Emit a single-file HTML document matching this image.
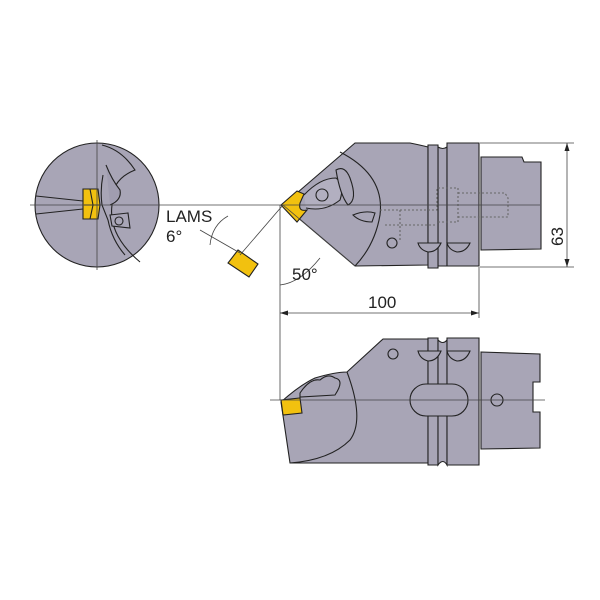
<!DOCTYPE html>
<html><head><style>body{margin:0;background:#fff}svg{display:block}</style></head><body>
<svg width="600" height="600" viewBox="0 0 600 600" xmlns="http://www.w3.org/2000/svg" font-family="Liberation Sans, sans-serif">
<g stroke="#222" stroke-width="1.1" fill="#a8a5b6">
<!-- front circle -->
<circle cx="97" cy="205" r="62"/>
<path d="M102 145 Q122 150 135 170 Q110 180 112 205 Q108 235 140 262" fill="none"/>
<path d="M103 175 Q100 190 102 205 L108 220 Q112 240 125 255" fill="none"/>
<path d="M106 165 Q112 180 120 190 Q122 200 110 205" fill="#a09db0"/>
<path d="M110 215 L128 213 L130 228 L112 226 Z"/>
<circle cx="119" cy="221" r="4"/>
<path d="M36 196 L83 201 M36 214 L83 209" fill="none"/>
<path d="M83 189 L98 189 L100 205 L98 219 L83 219 Z" fill="#f2c10f"/>
<path d="M90 189 L93 205 L90 219 M84 205 L100 205" fill="none"/>
<!-- side insert -->
<path d="M238 250 L258 264 L249 277 L228 263 Z" fill="#f2c10f"/>
<!-- top body -->
<path d="M283 205 L355 143 L410 143 Q420 145 428 147 L428 265 L355 266 Z"/>
<path d="M438 147 Q443 150 447 147 L447 266 L438 266 Z"/>
<path d="M428 145 L438 145 L438 268 L428 268 Z"/>
<path d="M447 143 L479 143 L479 266 L447 266 Z"/>
<path d="M481 157 L522 157 L524 162 L541 162 L541 249 L481 250 Z"/>
<path d="M340 152 Q385 175 380 215 Q375 245 355 266" fill="none"/>
<path d="M304 195 Q320 178 336 178 Q345 185 340 200 Q325 212 306 208" fill="#b2afc0"/>
<circle cx="322" cy="195" r="6" fill="none"/>
<path d="M336 170 Q345 165 350 178 Q358 200 348 205 Q340 195 336 170Z"/>
<path d="M353 215 Q365 210 375 213 L372 222 Q360 222 353 215Z"/>
<circle cx="392" cy="243" r="5"/>
<path d="M418 243 L441 243 Q437 252 428 252 Q420 250 418 243Z M447 243 L470 243 Q466 252 457 252 Q449 250 447 243Z"/>
<path d="M281 205 L297 191 L304 194 L300 203 Q298 212 307 210 L297 222 Z" fill="#f2c10f"/>
<g fill="none" stroke-dasharray="2,2" stroke="#666">
<path d="M380 210 L437 210 L437 188 L458 188 L458 222 L437 222 M458 193 L505 193 L508 198 L508 217 L458 217 M400 210 L400 240 M385 225 L437 225"/>
</g>
<!-- bottom body -->
<path d="M383 339 L428 339 L428 463 L290 463 L281 402 Q300 385 315 378 Q335 372 347 372 Z"/>
<path d="M428 338 L438 338 L438 465 L428 465 Z"/>
<path d="M438 340 Q443 345 447 340 L447 465 Q443 458 438 465 Z"/>
<path d="M447 338 L479 338 L479 465 L447 465 Z"/>
<path d="M481 352 L540 354 L540 382 L533 382 L533 412 L540 412 L540 448 L481 449 Z"/>
<rect x="410" y="384" width="58" height="32" rx="16"/>
<circle cx="497" cy="400" r="6"/>
<path d="M347 372 Q365 420 350 440 Q330 460 290 463" fill="none"/>
<path d="M300 393 Q310 378 320 380 Q328 373 335 378 Q345 380 335 395 L300 397Z"/>
<circle cx="393" cy="354" r="5"/>
<path d="M418 351 L441 351 Q437 361 428 361 Q420 359 418 351Z M447 351 L470 351 Q466 361 457 361 Q449 359 447 351Z"/>
<path d="M281 400 L300 398 L302 413 L283 415 Z" fill="#f2c10f"/>
</g>
<g stroke="#444" stroke-width="0.8" fill="none">
<line x1="30" y1="205" x2="540" y2="205"/>
<line x1="97" y1="140" x2="97" y2="270"/>
<line x1="270" y1="400" x2="545" y2="400"/>
<line x1="280" y1="205" x2="280" y2="400"/>
<line x1="479" y1="267" x2="479" y2="318"/>
<line x1="280" y1="313" x2="479" y2="313"/>
<line x1="480" y1="143" x2="574" y2="143"/>
<line x1="480" y1="267" x2="574" y2="267"/>
<line x1="567" y1="143" x2="567" y2="267"/>
<line x1="283" y1="205" x2="355" y2="266"/>
<line x1="283" y1="205" x2="240" y2="255"/>
<path d="M280 285 Q300 283 320 258"/>
<path d="M228 216 Q212 225 210 245"/>
<line x1="200" y1="230" x2="240" y2="253"/>
</g>
<g fill="#222">
<path d="M280 313 l8 -2.5 v5z M479 313 l-8 -2.5 v5z M567 143 l-2.5 8 h5z M567 267 l-2.5 -8 h5z"/>
</g>
<g font-size="17" fill="#222">
<text x="166" y="222">LAMS</text>
<text x="166" y="242">6°</text>
<text x="292" y="280">50°</text>
<text x="368" y="308">100</text>
<text x="0" y="0" transform="translate(563 246) rotate(-90)">63</text>
</g>
</svg>
</body></html>
